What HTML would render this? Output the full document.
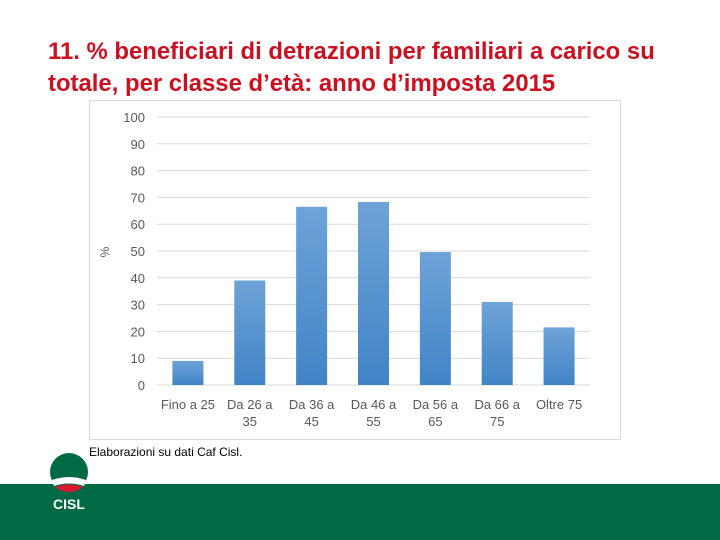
<!DOCTYPE html>
<html><head><meta charset="utf-8"><style>
body{margin:0;width:720px;height:540px;position:relative;background:#fff;overflow:hidden;font-family:"Liberation Sans",sans-serif}
.title{position:absolute;left:48px;top:36px;font-size:23.9px;line-height:32px;color:#cc1020;font-weight:bold;white-space:nowrap}
.band{position:absolute;left:0;top:484px;width:720px;height:56px;background:#006a45}
.note{position:absolute;left:89px;top:445px;font-size:12px;color:#000}
</style></head><body>
<div class="title">11. % beneficiari di detrazioni per familiari a carico su<br>totale, per classe d’età: anno d’imposta 2015</div>
<svg id="chart" style="position:absolute;left:0;top:0" width="720" height="540"></svg>
<div class="note">Elaborazioni su dati Caf Cisl.</div>
<div class="band"></div>
<svg style="position:absolute;left:46px;top:450px" width="50" height="65">
<circle cx="23" cy="22" r="19" fill="#006a45"/>
<path d="M6 30 Q23 24 40 30 L38 36 Q23 31 8 36Z" fill="#fff"/>
<path d="M9 37 Q23 32 37 37 Q31 42 23 42 Q15 42 9 37Z" fill="#d7172f"/>
<text x="23" y="59" text-anchor="middle" font-family="Liberation Sans" font-weight="bold" font-size="14" fill="#fff">CISL</text>
</svg>
<script>
const categories=["Fino a 25","Da 26 a|35","Da 36 a|45","Da 46 a|55","Da 56 a|65","Da 66 a|75","Oltre 75"];
const values=[9,39,66.5,68.3,49.6,31,21.5];
const yTicks=[0,10,20,30,40,50,60,70,80,90,100];
const NS="http://www.w3.org/2000/svg";
const svg=document.getElementById('chart');
const x0=157,x1=590,y0=385,y1=117;
const band=(x1-x0)/categories.length;
const y=v=>y0-(v/100)*(y0-y1);
function mk(t,a){const e=document.createElementNS(NS,t);for(const k in a)e.setAttribute(k,a[k]);svg.appendChild(e);return e;}
const defs=mk('defs',{});
defs.innerHTML='<linearGradient id="g" x1="0" y1="0" x2="0" y2="1"><stop offset="0" stop-color="#6ea3d8"/><stop offset="1" stop-color="#4184c6"/></linearGradient>';
const fr=mk('rect',{x:89.5,y:100.5,width:531,height:339,fill:'none',stroke:'#d9d9d9'});


yTicks.forEach(t=>{
 const l=mk('line',{x1:x0,x2:x1,y1:y(t),y2:y(t),stroke:'#d9d9d9','stroke-width':1});
 
 
 const tx=mk('text',{x:145,y:y(t)+5,'text-anchor':'end','font-size':13,fill:'#595959','font-family':'Liberation Sans'});
 tx.textContent=t;
 
 
});
const yt=mk('text',{x:105,y:256,'text-anchor':'middle','font-size':12,fill:'#595959',transform:'rotate(-90 105 252)'});
yt.textContent='%';


categories.forEach((c,i)=>{
 const cx=x0+band*(i+0.5);
 const r=mk('rect',{x:cx-15.5,y:y(values[i]),width:31,height:y0-y(values[i]),fill:'url(#g)'});
 
 
 c.split('|').forEach((s,j)=>{
  const t=mk('text',{x:cx,y:409+j*17,'text-anchor':'middle','font-size':13,fill:'#595959'});
  t.textContent=s;
  
  
 });
});
</script>
</body></html>
